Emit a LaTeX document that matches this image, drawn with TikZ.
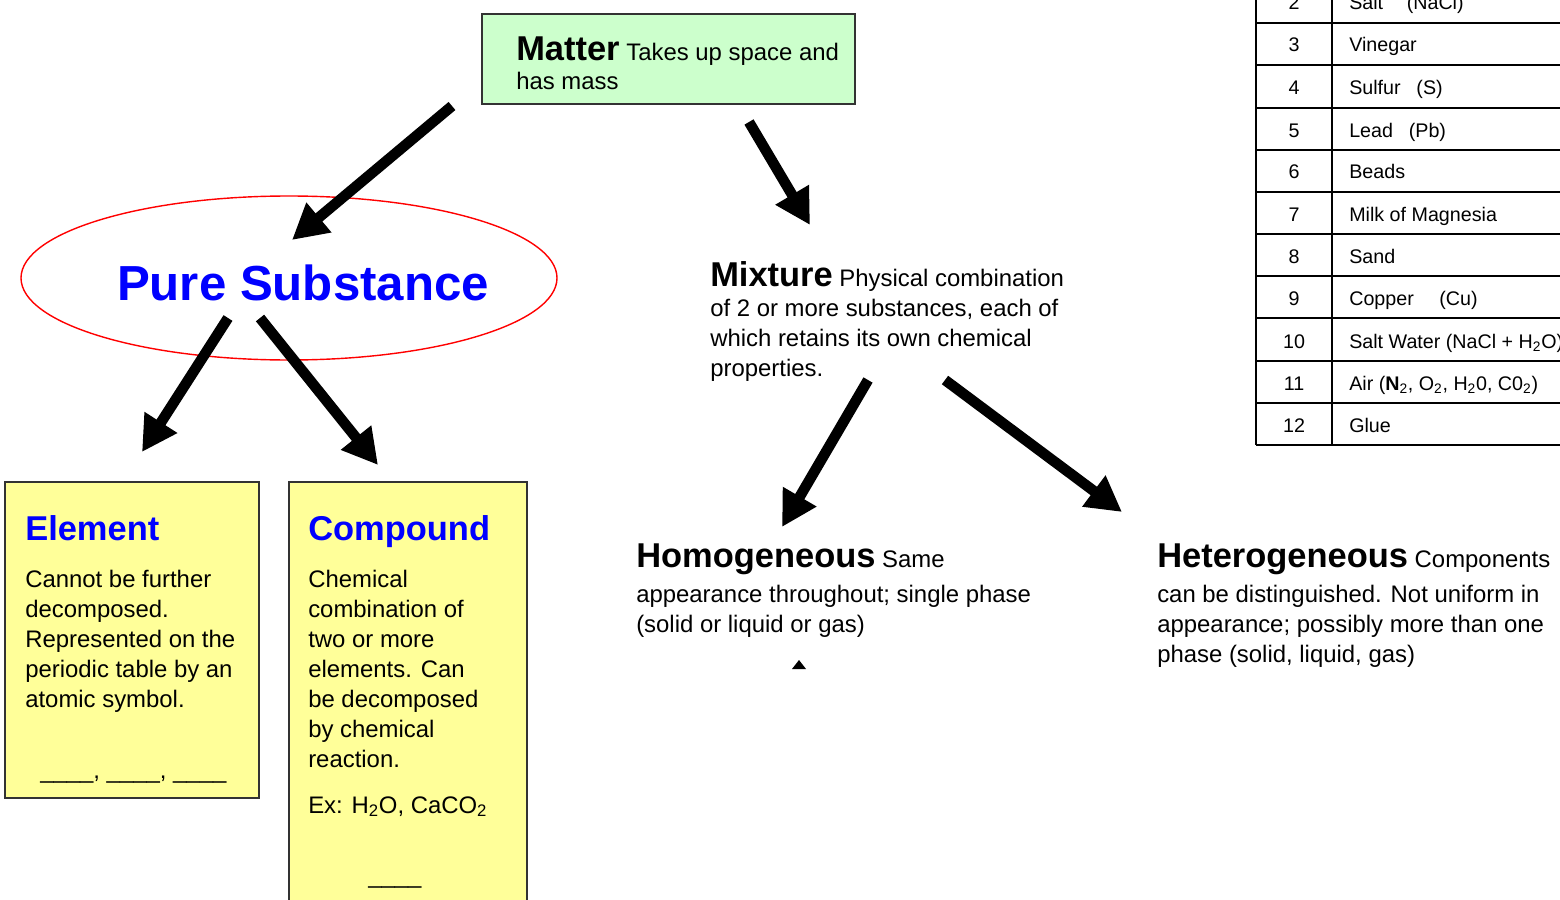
\documentclass[tikz,border=0pt]{standalone}
\usepackage{fontspec}
\setmainfont{Liberation Sans}
\usetikzlibrary{arrows.meta}
\definecolor{mattergreen}{HTML}{CCFFCC}
\definecolor{boxyellow}{HTML}{FFFF99}
\definecolor{titleblue}{HTML}{0000FF}
\definecolor{boxedge}{HTML}{333333}
\newcommand{\bodysize}{\fontsize{17}{21.3}\selectfont}
\newcommand{\headsize}{\fontsize{24.5}{29}\selectfont\bfseries}
\newcommand{\tablesize}{\fontsize{14}{17}\selectfont}

\begin{document}
\begin{tikzpicture}[x=0.025cm,y=-0.025cm,
        bigarrow/.style={line width=7.5pt,-{Triangle[length=25pt,width=26pt]}},
        txt/.style={anchor=base west,inner sep=0pt,align=left,font=\bodysize},
        bluehead/.style={anchor=base west,inner sep=0pt,text=titleblue,font=\headsize},
        cell/.style={anchor=base west,inner sep=0pt,font=\tablesize},
        num/.style={anchor=base,inner sep=0pt,font=\tablesize}]
                \useasboundingbox (0,0) rectangle (1560,900);
                \draw[boxedge,line width=1pt,fill=mattergreen] (482,14) rectangle (855,104);
                \draw[boxedge,line width=1pt,fill=boxyellow] (5,482) rectangle (259,798);
                \draw[boxedge,line width=1pt,fill=boxyellow] (289,482) rectangle (527,910);
                \draw[red,line width=1pt] (289,278) ellipse (268 and 82);
                % multi-line nodes sit on the baseline of their last line
                \node[txt] (matter) at (516,90) {{\headsize Matter} Takes up space and\\has mass};
                \node[anchor=base,inner sep=0pt,text=titleblue,font=\fontsize{35}{40}\selectfont\bfseries] (pure) at (303,300) {Pure Substance};
                \node[txt] (mixture) at (710,376) {{\headsize Mixture} Physical combination\\of 2 or more substances, each of\\which retains its own chemical\\properties.};
                \node[bluehead] (element) at (25,540) {Element};
                \node[txt] (elementtext) at (25,707) {Cannot be further\\decomposed.\\Represented on the\\periodic table by an\\atomic symbol.};
                \node[txt] (elementblank) at (40,778) {\_\_\_\_, \_\_\_\_, \_\_\_\_};
                \node[bluehead] (compound) at (308,540) {Compound};
                \node[txt] (compoundtext) at (308,767) {Chemical\\combination of\\two or more\\elements. Can\\be decomposed\\by chemical\\reaction.};
                \node[txt] (compoundex) at (308,813) {Ex: H\textsubscript{2}O, CaCO\textsubscript{2}};
                \node[txt] (compoundblank) at (368,883) {\_\_\_\_};
                \node[txt] (homo) at (636,632) {{\headsize Homogeneous} Same\\[3pt]appearance throughout; single phase\\(solid or liquid or gas)};
                \node[txt] (hetero) at (1157,662) {{\headsize Heterogeneous} Components\\[3pt]can be distinguished. Not uniform in\\appearance; possibly more than one\\phase (solid, liquid, gas)};
                \fill (792,669) -- (799,660) -- (806,669) -- cycle;
                \coordinate (m1) at (452,106);
                \coordinate (p1) at (292,240);
                \coordinate (m2) at (749,122);
                \coordinate (x1) at (810,225);
                \coordinate (p2) at (228,318);
                \coordinate (e1) at (142,452);
                \coordinate (p3) at (260,318);
                \coordinate (c1) at (378,465);
                \coordinate (x2) at (868,380);
                \coordinate (h1) at (782,527);
                \coordinate (x3) at (945,380);
                \coordinate (h2) at (1122,512);
                \draw[bigarrow] (m1) -- (p1);
                \draw[bigarrow] (m2) -- (x1);
                \draw[bigarrow] (p2) -- (e1);
                \draw[bigarrow] (p3) -- (c1);
                \draw[bigarrow] (x2) -- (h1);
                \draw[bigarrow] (x3) -- (h2);
                \draw[line width=1.3pt] (1256,-20) -- (1256,445);
                \draw[line width=1.3pt] (1332,-20) -- (1332,445);
                \draw[line width=1.3pt] (1256,23) -- (1570,23);
                \draw[line width=1.3pt] (1256,65) -- (1570,65);
                \draw[line width=1.3pt] (1256,108) -- (1570,108);
                \draw[line width=1.3pt] (1256,150) -- (1570,150);
                \draw[line width=1.3pt] (1256,192) -- (1570,192);
                \draw[line width=1.3pt] (1256,234) -- (1570,234);
                \draw[line width=1.3pt] (1256,276) -- (1570,276);
                \draw[line width=1.3pt] (1256,318) -- (1570,318);
                \draw[line width=1.3pt] (1256,361) -- (1570,361);
                \draw[line width=1.3pt] (1256,403) -- (1570,403);
                \draw[line width=1.3pt] (1256,445) -- (1570,445);
                \node[num] (n2) at (1294,10) {2};
                \node[cell] (salt) at (1349,10) {Salt\hspace{1.2em}(NaCl)};
                \node[num] (n3) at (1294,52) {3};
                \node[cell] (vinegar) at (1349,52) {Vinegar};
                \node[num] (n4) at (1294,95) {4};
                \node[cell] (sulfur) at (1349,95) {Sulfur\hspace{0.8em}(S)};
                \node[num] (n5) at (1294,137) {5};
                \node[cell] (lead) at (1349,137) {Lead\hspace{0.8em}(Pb)};
                \node[num] (n6) at (1294,179) {6};
                \node[cell] (beads) at (1349,179) {Beads};
                \node[num] (n7) at (1294,221) {7};
                \node[cell] (milk) at (1349,221) {Milk of Magnesia};
                \node[num] (n8) at (1294,263) {8};
                \node[cell] (sand) at (1349,263) {Sand};
                \node[num] (n9) at (1294,305) {9};
                \node[cell] (copper) at (1349,305) {Copper\hspace{1.3em}(Cu)};
                \node[num] (n10) at (1294,348) {10};
                \node[cell] (saltwater) at (1349,348) {Salt Water (NaCl + H\textsubscript{2}O)};
                \node[num] (n11) at (1294,390) {11};
                \node[cell] (air) at (1349,390) {Air (\textbf{N}\textsubscript{2}, O\textsubscript{2}, H\textsubscript{2}0, C0\textsubscript{2})};
                \node[num] (n12) at (1294,432) {12};
                \node[cell] (glue) at (1349,432) {Glue};
\end{tikzpicture}
\end{document}
